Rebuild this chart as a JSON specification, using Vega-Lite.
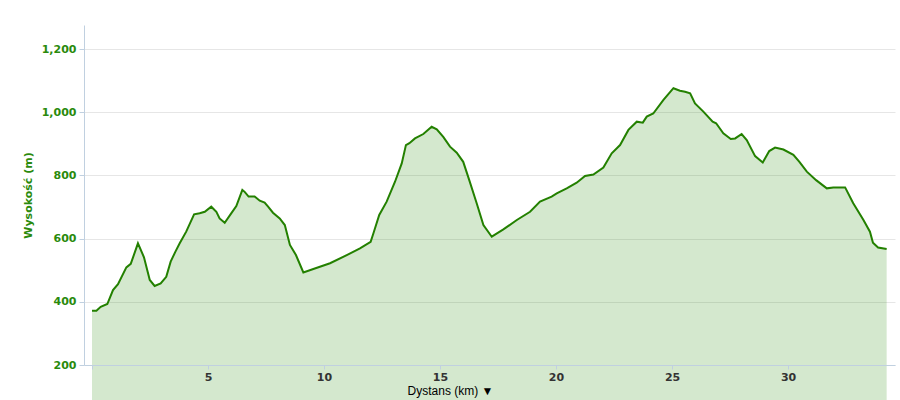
{
  "$schema": "https://vega.github.io/schema/vega-lite/v6.json",
  "width": 811,
  "height": 340,
  "autosize": {"type": "none"},
  "padding": {"left": 84, "top": 25, "right": 5, "bottom": 35},
  "background": "#ffffff",
  "config": {"view": {"stroke": null}},
  "data": {"values": [
    {"km": 0.0, "elev": 372}, {"km": 0.19, "elev": 372}, {"km": 0.375, "elev": 384}, {"km": 0.66, "elev": 393},
    {"km": 0.905, "elev": 437}, {"km": 1.12, "elev": 456}, {"km": 1.48, "elev": 509}, {"km": 1.67, "elev": 520},
    {"km": 1.98, "elev": 585}, {"km": 2.24, "elev": 541}, {"km": 2.49, "elev": 469}, {"km": 2.70, "elev": 450},
    {"km": 2.96, "elev": 458}, {"km": 3.20, "elev": 479}, {"km": 3.39, "elev": 527}, {"km": 3.59, "elev": 558},
    {"km": 3.78, "elev": 585}, {"km": 4.06, "elev": 622}, {"km": 4.40, "elev": 677}, {"km": 4.64, "elev": 680},
    {"km": 4.86, "elev": 685}, {"km": 5.14, "elev": 701}, {"km": 5.36, "elev": 685}, {"km": 5.50, "elev": 664},
    {"km": 5.72, "elev": 650}, {"km": 6.00, "elev": 680}, {"km": 6.22, "elev": 703}, {"km": 6.48, "elev": 754},
    {"km": 6.58, "elev": 748}, {"km": 6.75, "elev": 733}, {"km": 7.01, "elev": 733}, {"km": 7.23, "elev": 720},
    {"km": 7.44, "elev": 714}, {"km": 7.59, "elev": 701}, {"km": 7.80, "elev": 682}, {"km": 8.09, "elev": 664},
    {"km": 8.31, "elev": 643}, {"km": 8.53, "elev": 580}, {"km": 8.79, "elev": 548}, {"km": 9.11, "elev": 493},
    {"km": 9.54, "elev": 504}, {"km": 10.26, "elev": 522}, {"km": 10.98, "elev": 548}, {"km": 11.55, "elev": 569},
    {"km": 12.01, "elev": 590}, {"km": 12.13, "elev": 617}, {"km": 12.38, "elev": 675}, {"km": 12.70, "elev": 717},
    {"km": 13.06, "elev": 780}, {"km": 13.35, "elev": 838}, {"km": 13.53, "elev": 896}, {"km": 13.68, "elev": 902},
    {"km": 13.92, "elev": 917}, {"km": 14.28, "elev": 931}, {"km": 14.64, "elev": 954}, {"km": 14.86, "elev": 946},
    {"km": 15.14, "elev": 922}, {"km": 15.43, "elev": 891}, {"km": 15.72, "elev": 872}, {"km": 16.00, "elev": 843},
    {"km": 16.26, "elev": 785}, {"km": 16.58, "elev": 712}, {"km": 16.87, "elev": 643}, {"km": 17.23, "elev": 606},
    {"km": 17.73, "elev": 629}, {"km": 18.31, "elev": 659}, {"km": 18.88, "elev": 685}, {"km": 19.31, "elev": 717},
    {"km": 19.81, "elev": 733}, {"km": 20.03, "elev": 743}, {"km": 20.46, "elev": 759}, {"km": 20.89, "elev": 777},
    {"km": 21.25, "elev": 798}, {"km": 21.61, "elev": 803}, {"km": 22.04, "elev": 825}, {"km": 22.40, "elev": 870},
    {"km": 22.76, "elev": 896}, {"km": 23.12, "elev": 944}, {"km": 23.48, "elev": 970}, {"km": 23.74, "elev": 967},
    {"km": 23.91, "elev": 986}, {"km": 24.19, "elev": 996}, {"km": 24.63, "elev": 1039}, {"km": 25.06, "elev": 1076},
    {"km": 25.34, "elev": 1068}, {"km": 25.56, "elev": 1065}, {"km": 25.78, "elev": 1060}, {"km": 25.99, "elev": 1028},
    {"km": 26.35, "elev": 1002}, {"km": 26.75, "elev": 970}, {"km": 26.90, "elev": 965}, {"km": 27.21, "elev": 933},
    {"km": 27.53, "elev": 915}, {"km": 27.72, "elev": 917}, {"km": 28.00, "elev": 931}, {"km": 28.22, "elev": 912},
    {"km": 28.58, "elev": 861}, {"km": 28.91, "elev": 841}, {"km": 29.19, "elev": 877}, {"km": 29.44, "elev": 888},
    {"km": 29.80, "elev": 882}, {"km": 30.23, "elev": 865}, {"km": 30.49, "elev": 843}, {"km": 30.81, "elev": 812},
    {"km": 31.21, "elev": 785}, {"km": 31.67, "elev": 759}, {"km": 31.95, "elev": 762}, {"km": 32.46, "elev": 762},
    {"km": 32.81, "elev": 712}, {"km": 33.25, "elev": 659}, {"km": 33.53, "elev": 622}, {"km": 33.66, "elev": 587},
    {"km": 33.88, "elev": 572}, {"km": 34.25, "elev": 567}
  ]},
  "encoding": {
    "x": {
      "field": "km", "type": "quantitative",
      "scale": {"domain": [-0.345, 34.61], "nice": false, "zero": false},
      "axis": {
        "values": [0, 5, 10, 15, 20, 25, 30],
        "labelExpr": "datum.value == 0 ? '' : datum.label",
        "grid": false, "zindex": 1,
        "domainColor": "#c0d0e0", "tickColor": "#c0d0e0", "tickSize": 4,
        "labelFont": "DejaVu Sans", "labelFontWeight": "bold", "labelFontSize": 11,
        "labelColor": "#333333", "labelPadding": 2,
        "title": "Dystans (km)  ▼",
        "titleFont": "Liberation Sans", "titleFontWeight": "normal", "titleFontSize": 12,
        "titleColor": "#000000",
        "titleX": 366, "titleY": 29, "titleAlign": "center", "titleBaseline": "alphabetic"
      }
    },
    "y": {
      "field": "elev", "type": "quantitative",
      "scale": {"domain": [200, 1276], "nice": false, "zero": false},
      "axis": {
        "values": [200, 400, 600, 800, 1000, 1200],
        "format": ",d",
        "gridColor": "#e6e6e6",
        "domainColor": "#c0d0e0", "tickColor": "#c0d0e0", "tickSize": 5,
        "labelFont": "DejaVu Sans", "labelFontWeight": "bold", "labelFontSize": 11,
        "labelColor": "#2a8a0c", "labelPadding": 3,
        "title": "Wysokość (m)",
        "titleFont": "DejaVu Sans", "titleFontWeight": "bold", "titleFontSize": 11,
        "titleColor": "#2a8a0c",
        "titleX": -56, "titleY": 170, "titleAlign": "center", "titleBaseline": "middle", "titleAngle": -90
      }
    }
  },
  "layer": [
    {"mark": {"type": "area", "color": "#2a8a0c", "opacity": 0.2}},
    {"mark": {"type": "line", "color": "#238000", "strokeWidth": 2}}
  ]
}
